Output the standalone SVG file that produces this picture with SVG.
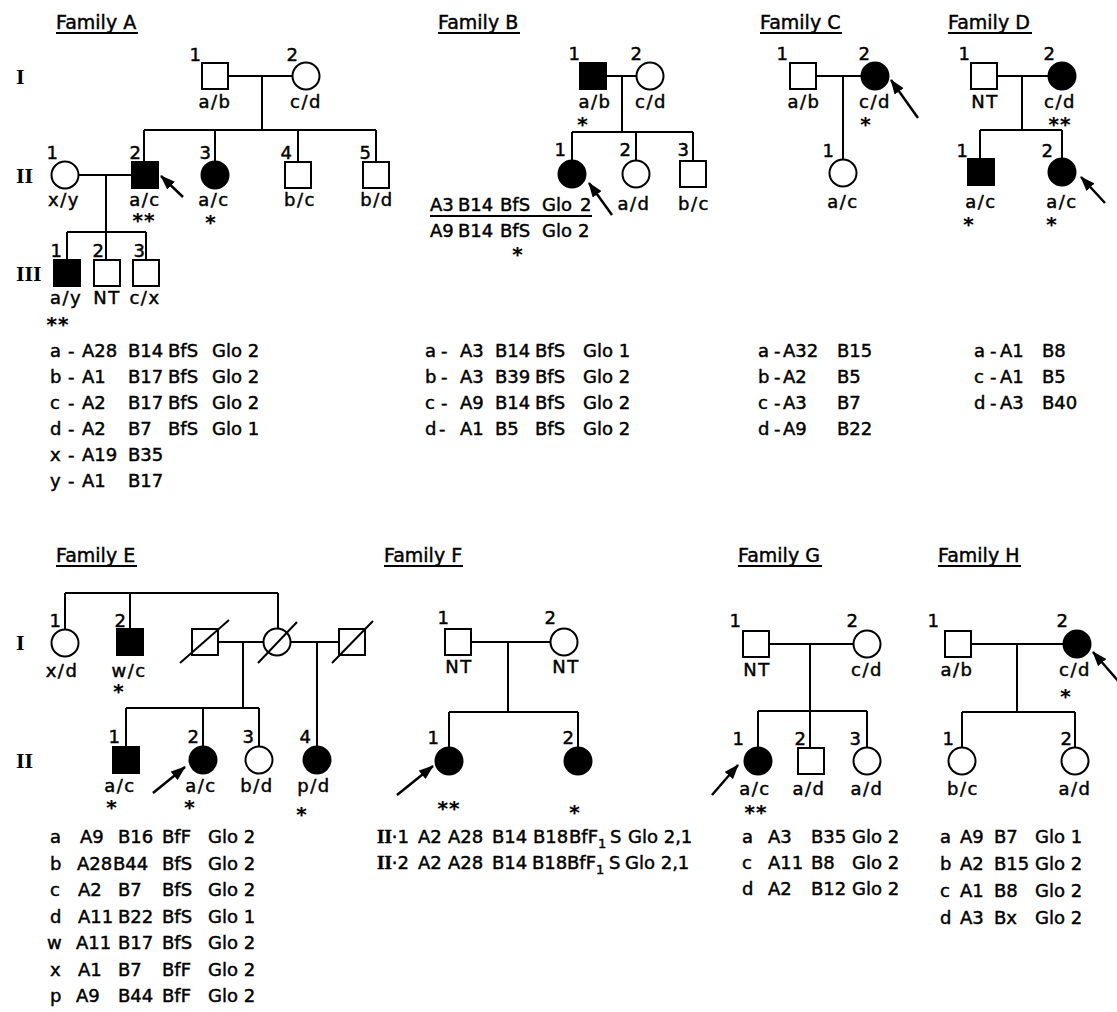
<svg xmlns="http://www.w3.org/2000/svg" width="1117" height="1012" viewBox="0 0 1117 1012">
<defs>
<marker id="ah" markerUnits="userSpaceOnUse" markerWidth="15" markerHeight="11" refX="14" refY="5.5" orient="auto"><path d="M0,0 L15,5.5 L0,11 Z" fill="#000"/></marker>
<style>
.s{fill:#fff;stroke:#000;stroke-width:2}
.f{fill:#000;stroke:#000;stroke-width:2}
.ln{stroke:#000;stroke-width:2;fill:none}
.ar{stroke:#000;stroke-width:2.5;fill:none;marker-end:url(#ah)}
.ul{stroke:#000;stroke-width:1.8}
text{font-family:"DejaVu Sans",sans-serif;font-size:18px;fill:#000;stroke:#000;stroke-width:0.45}
.t{font-size:19px}
.lb{text-anchor:middle;letter-spacing:1.5px}
.n{text-anchor:end}
.rn{font-family:"Liberation Serif",serif;font-size:22px;font-weight:bold;stroke-width:0}
.rs{font-family:"Liberation Serif",serif;font-size:19px;font-weight:bold}
.ast{font-family:"DejaVu Sans",sans-serif;font-weight:bold;font-size:20px;text-anchor:middle;letter-spacing:1px;stroke-width:0.2}
.sub{font-size:13px}
</style>
</defs>
<rect width="1117" height="1012" fill="#fff"/>

<g id="titles">
<text class="t" x="56" y="29">Family A</text><line class="ul" x1="56" y1="33" x2="138" y2="33"/>
<text class="t" x="438" y="29">Family B</text><line class="ul" x1="438" y1="33" x2="520" y2="33"/>
<text class="t" x="760" y="29">Family C</text><line class="ul" x1="760" y1="33" x2="842" y2="33"/>
<text class="t" x="948" y="29">Family D</text><line class="ul" x1="948" y1="33" x2="1032" y2="33"/>
<text class="t" x="56" y="562">Family E</text><line class="ul" x1="56" y1="566" x2="137" y2="566"/>
<text class="t" x="384" y="562">Family F</text><line class="ul" x1="384" y1="566" x2="463" y2="566"/>
<text class="t" x="738" y="562">Family G</text><line class="ul" x1="738" y1="566" x2="822" y2="566"/>
<text class="t" x="938" y="562">Family H</text><line class="ul" x1="938" y1="566" x2="1021" y2="566"/>
</g>

<g id="generations">
<text class="rn" x="16" y="84">I</text>
<text class="rn" x="16" y="183">II</text>
<text class="rn" x="16" y="281">III</text>
<text class="rn" x="16" y="650">I</text>
<text class="rn" x="16" y="768">II</text>
</g>

<g id="connectors">
<path class="ln" d="M228 76H292.5M262 76V130M144 130H376M144 130V162M215 130V161.5M298 130V162M376 130V162M78.5 175H132M106 175V260M67 232H146M67 232V260M146 232V260"/>
<path class="ln" d="M606 76H636.5M622 76V132M572 132H693M572 132V160.5M636 132V160.5M693 132V161"/>
<path class="ln" d="M816 76H861.5M843 76V159.5"/>
<path class="ln" d="M997 76H1048.5M1022 76V130M980 130H1062M980 130V159M1062 130V158.5"/>
<path class="ln" d="M65 593H278M65 593V629.5M130 593V629M278 593V628.5M218 642H263.5M243 642V708M290.5 642H339M317 642V746.5M126 708H259M126 708V747M203 708V746.5M259 708V746.5"/>
<path class="ln" d="M471 642H550.5M508 642V712M449 712H578M449 712V747.5M578 712V747.5"/>
<path class="ln" d="M769 644H853.5M810 644V748M758 711H867M758 711V747.5M867 711V747.5"/>
<path class="ln" d="M971 644H1063.5M1017 644V712M962 712H1075M962 712V747.5M1075 712V747.5"/>
<line class="ar" x1="183" y1="197" x2="161" y2="176"/>
<line class="ar" x1="612" y1="215" x2="589" y2="183"/>
<line class="ar" x1="918" y1="118" x2="891" y2="80"/>
<line class="ar" x1="1105" y1="203" x2="1081" y2="177"/>
<line class="ar" x1="153" y1="793" x2="185" y2="767"/>
<line class="ar" x1="397" y1="795" x2="433" y2="766"/>
<line class="ar" x1="712" y1="795" x2="738" y2="765"/>
<line class="ar" x1="1120" y1="683" x2="1093" y2="652"/>
</g>

<!-- Family A -->
<g id="A-I-1"><rect class="s" x="202" y="63" width="26" height="26"/><text class="n" x="201" y="61">1</text><text class="lb" x="215" y="108">a/b</text></g>
<g id="A-I-2"><circle class="s" cx="306" cy="76" r="13.5"/><text class="n" x="298" y="61">2</text><text class="lb" x="306" y="108">c/d</text></g>
<g id="A-II-1"><circle class="s" cx="65" cy="175" r="13.5"/><text class="n" x="58" y="159">1</text><text class="lb" x="64" y="206">x/y</text></g>
<g id="A-II-2"><rect class="f" x="132" y="162" width="26" height="26"/><text class="n" x="141" y="159">2</text><text class="lb" x="145" y="206">a/c</text><text class="ast" x="144" y="227">**</text></g>
<g id="A-II-3"><circle class="f" cx="215" cy="175" r="13.5"/><text class="n" x="211" y="159">3</text><text class="lb" x="214" y="206">a/c</text><text class="ast" x="211" y="229">*</text></g>
<g id="A-II-4"><rect class="s" x="285" y="162" width="26" height="26"/><text class="n" x="292" y="159">4</text><text class="lb" x="300" y="206">b/c</text></g>
<g id="A-II-5"><rect class="s" x="363" y="162" width="26" height="26"/><text class="n" x="371" y="159">5</text><text class="lb" x="377" y="206">b/d</text></g>
<g id="A-III-1"><rect class="f" x="54" y="260" width="26" height="26"/><text class="n" x="62" y="257">1</text><text class="lb" x="66" y="304">a/y</text><text class="ast" x="58" y="331">**</text></g>
<g id="A-III-2"><rect class="s" x="94" y="260" width="26" height="26"/><text class="n" x="104" y="257">2</text><text class="lb" x="107" y="304">NT</text></g>
<g id="A-III-3"><rect class="s" x="133" y="260" width="26" height="26"/><text class="n" x="145" y="257">3</text><text class="lb" x="145" y="304">c/x</text></g>
<g id="A-legend">
<text y="357"><tspan x="50">a</tspan><tspan x="68">-</tspan><tspan x="82">A28</tspan><tspan x="128">B14</tspan><tspan x="168">BfS</tspan><tspan x="212">Glo 2</tspan></text>
<text y="383"><tspan x="50">b</tspan><tspan x="68">-</tspan><tspan x="82">A1</tspan><tspan x="128">B17</tspan><tspan x="168">BfS</tspan><tspan x="212">Glo 2</tspan></text>
<text y="409"><tspan x="50">c</tspan><tspan x="68">-</tspan><tspan x="82">A2</tspan><tspan x="128">B17</tspan><tspan x="168">BfS</tspan><tspan x="212">Glo 2</tspan></text>
<text y="435"><tspan x="50">d</tspan><tspan x="68">-</tspan><tspan x="82">A2</tspan><tspan x="128">B7</tspan><tspan x="168">BfS</tspan><tspan x="212">Glo 1</tspan></text>
<text y="461"><tspan x="50">x</tspan><tspan x="68">-</tspan><tspan x="82">A19</tspan><tspan x="128">B35</tspan></text>
<text y="487"><tspan x="50">y</tspan><tspan x="68">-</tspan><tspan x="82">A1</tspan><tspan x="128">B17</tspan></text>
</g>

<!-- Family B -->
<g id="B-I-1"><rect class="f" x="580" y="63" width="26" height="26"/><text class="n" x="580" y="60">1</text><text class="lb" x="595" y="108">a/b</text><text class="ast" x="583" y="131">*</text></g>
<g id="B-I-2"><circle class="s" cx="650" cy="76" r="13.5"/><text class="n" x="642" y="60">2</text><text class="lb" x="651" y="108">c/d</text></g>
<g id="B-II-1"><circle class="f" cx="572" cy="174" r="13.5"/><text class="n" x="566" y="156">1</text>
<text x="430" y="211"><tspan x="430">A3</tspan><tspan x="458">B14</tspan><tspan x="500">BfS</tspan><tspan x="542">Glo</tspan><tspan x="580">2</tspan></text>
<line class="ln" x1="430" y1="216" x2="592" y2="216"/>
<text x="430" y="237"><tspan x="430">A9</tspan><tspan x="458">B14</tspan><tspan x="500">BfS</tspan><tspan x="542">Glo</tspan><tspan x="578">2</tspan></text>
<text class="ast" x="518" y="261">*</text></g>
<g id="B-II-2"><circle class="s" cx="636" cy="174" r="13.5"/><text class="n" x="631" y="156">2</text><text class="lb" x="634" y="210">a/d</text></g>
<g id="B-II-3"><rect class="s" x="680" y="161" width="26" height="26"/><text class="n" x="689" y="156">3</text><text class="lb" x="694" y="210">b/c</text></g>
<g id="B-legend">
<text y="357"><tspan x="425">a</tspan><tspan x="441">-</tspan><tspan x="460">A3</tspan><tspan x="495">B14</tspan><tspan x="535">BfS</tspan><tspan x="583">Glo 1</tspan></text>
<text y="383"><tspan x="425">b</tspan><tspan x="441">-</tspan><tspan x="460">A3</tspan><tspan x="495">B39</tspan><tspan x="535">BfS</tspan><tspan x="583">Glo 2</tspan></text>
<text y="409"><tspan x="425">c</tspan><tspan x="441">-</tspan><tspan x="460">A9</tspan><tspan x="495">B14</tspan><tspan x="535">BfS</tspan><tspan x="583">Glo 2</tspan></text>
<text y="435"><tspan x="425">d</tspan><tspan x="439">-</tspan><tspan x="460">A1</tspan><tspan x="495">B5</tspan><tspan x="535">BfS</tspan><tspan x="583">Glo 2</tspan></text>
</g>

<!-- Family C -->
<g id="C-I-1"><rect class="s" x="790" y="63" width="26" height="26"/><text class="n" x="788" y="60">1</text><text class="lb" x="804" y="108">a/b</text></g>
<g id="C-I-2"><circle class="f" cx="875" cy="76" r="13.5"/><text class="n" x="870" y="60">2</text><text class="lb" x="875" y="108">c/d</text><text class="ast" x="866" y="131">*</text></g>
<g id="C-II-1"><circle class="s" cx="843" cy="173" r="13.5"/><text class="n" x="834" y="157">1</text><text class="lb" x="843" y="208">a/c</text></g>
<g id="C-legend">
<text y="357"><tspan x="758">a</tspan><tspan x="774">-</tspan><tspan x="783">A32</tspan><tspan x="837">B15</tspan></text>
<text y="383"><tspan x="758">b</tspan><tspan x="774">-</tspan><tspan x="783">A2</tspan><tspan x="837">B5</tspan></text>
<text y="409"><tspan x="758">c</tspan><tspan x="774">-</tspan><tspan x="783">A3</tspan><tspan x="837">B7</tspan></text>
<text y="435"><tspan x="758">d</tspan><tspan x="774">-</tspan><tspan x="783">A9</tspan><tspan x="837">B22</tspan></text>
</g>

<!-- Family D -->
<g id="D-I-1"><rect class="s" x="971" y="63" width="26" height="26"/><text class="n" x="970" y="60">1</text><text class="lb" x="985" y="108">NT</text></g>
<g id="D-I-2"><circle class="f" cx="1062" cy="76" r="13.5"/><text class="n" x="1055" y="60">2</text><text class="lb" x="1060" y="108">c/d</text><text class="ast" x="1060" y="131">**</text></g>
<g id="D-II-1"><rect class="f" x="968" y="159" width="26" height="26"/><text class="n" x="968" y="157">1</text><text class="lb" x="981" y="208">a/c</text><text class="ast" x="969" y="231">*</text></g>
<g id="D-II-2"><circle class="f" cx="1062" cy="172" r="13.5"/><text class="n" x="1053" y="157">2</text><text class="lb" x="1062" y="208">a/c</text><text class="ast" x="1052" y="231">*</text></g>
<g id="D-legend">
<text y="357"><tspan x="974">a</tspan><tspan x="990">-</tspan><tspan x="1000">A1</tspan><tspan x="1042">B8</tspan></text>
<text y="383"><tspan x="974">c</tspan><tspan x="990">-</tspan><tspan x="1000">A1</tspan><tspan x="1042">B5</tspan></text>
<text y="409"><tspan x="974">d</tspan><tspan x="990">-</tspan><tspan x="1000">A3</tspan><tspan x="1042">B40</tspan></text>
</g>

<!-- Family E -->
<g id="E-I-1"><circle class="s" cx="65" cy="643" r="13.5"/><text class="n" x="61" y="627">1</text><text class="lb" x="62" y="677">x/d</text></g>
<g id="E-I-2"><rect class="f" x="117" y="629" width="26" height="26"/><text class="n" x="126" y="627">2</text><text class="lb" x="129" y="677">w/c</text><text class="ast" x="119" y="698">*</text></g>
<g id="E-I-3"><rect class="s" x="192" y="629" width="26" height="26"/><line class="ln" x1="180" y1="663" x2="229" y2="620"/></g>
<g id="E-I-4"><circle class="s" cx="277" cy="642" r="13.5"/><line class="ln" x1="258" y1="663" x2="297" y2="622"/></g>
<g id="E-I-5"><rect class="s" x="339" y="629" width="26" height="26"/><line class="ln" x1="332" y1="663" x2="373" y2="621"/></g>
<g id="E-II-1"><rect class="f" x="113" y="747" width="26" height="26"/><text class="n" x="120" y="743">1</text><text class="lb" x="120" y="792">a/c</text><text class="ast" x="112" y="814">*</text></g>
<g id="E-II-2"><circle class="f" cx="203" cy="760" r="13.5"/><text class="n" x="199" y="743">2</text><text class="lb" x="201" y="792">a/c</text><text class="ast" x="190" y="814">*</text></g>
<g id="E-II-3"><circle class="s" cx="259" cy="760" r="13.5"/><text class="n" x="254" y="743">3</text><text class="lb" x="257" y="792">b/d</text></g>
<g id="E-II-4"><circle class="f" cx="317" cy="760" r="13.5"/><text class="n" x="311" y="743">4</text><text class="lb" x="314" y="792">p/d</text><text class="ast" x="302" y="821">*</text></g>
<g id="E-legend">
<text y="843"><tspan x="50">a</tspan><tspan x="80">A9</tspan><tspan x="118">B16</tspan><tspan x="162">BfF</tspan><tspan x="208">Glo 2</tspan></text>
<text y="869.5"><tspan x="50">b</tspan><tspan x="77">A28</tspan><tspan x="113">B44</tspan><tspan x="162">BfS</tspan><tspan x="208">Glo 2</tspan></text>
<text y="896"><tspan x="50">c</tspan><tspan x="78">A2</tspan><tspan x="118">B7</tspan><tspan x="162">BfS</tspan><tspan x="208">Glo 2</tspan></text>
<text y="922.5"><tspan x="50">d</tspan><tspan x="78">A11</tspan><tspan x="118">B22</tspan><tspan x="162">BfS</tspan><tspan x="208">Glo 1</tspan></text>
<text y="949"><tspan x="47">w</tspan><tspan x="76">A11</tspan><tspan x="118">B17</tspan><tspan x="162">BfS</tspan><tspan x="208">Glo 2</tspan></text>
<text y="975.5"><tspan x="50">x</tspan><tspan x="78">A1</tspan><tspan x="118">B7</tspan><tspan x="162">BfF</tspan><tspan x="208">Glo 2</tspan></text>
<text y="1002"><tspan x="50">p</tspan><tspan x="76">A9</tspan><tspan x="118">B44</tspan><tspan x="162">BfF</tspan><tspan x="208">Glo 2</tspan></text>
</g>

<!-- Family F -->
<g id="F-I-1"><rect class="s" x="445" y="629" width="26" height="26"/><text class="n" x="449" y="624">1</text><text class="lb" x="459" y="673">NT</text></g>
<g id="F-I-2"><circle class="s" cx="564" cy="642" r="13.5"/><text class="n" x="556" y="624">2</text><text class="lb" x="566" y="673">NT</text></g>
<g id="F-II-1"><circle class="f" cx="449" cy="761" r="13.5"/><text class="n" x="439" y="744">1</text><text class="ast" x="449" y="815">**</text></g>
<g id="F-II-2"><circle class="f" cx="578" cy="761" r="13.5"/><text class="n" x="574" y="744">2</text><text class="ast" x="575" y="819">*</text></g>
<g id="F-genotypes">
<text y="843"><tspan x="377" class="rs">II</tspan><tspan>·1</tspan><tspan x="418">A2</tspan><tspan x="448">A28</tspan><tspan x="492">B14</tspan><tspan x="533">B18</tspan><tspan x="569">BfF</tspan><tspan class="sub" dy="5">1</tspan><tspan x="610" dy="-5">S</tspan><tspan x="628">Glo 2,1</tspan></text>
<text y="869"><tspan x="377" class="rs">II</tspan><tspan>·2</tspan><tspan x="418">A2</tspan><tspan x="448">A28</tspan><tspan x="492">B14</tspan><tspan x="532">B18</tspan><tspan x="567">BfF</tspan><tspan class="sub" dy="5">1</tspan><tspan x="609" dy="-5">S</tspan><tspan x="625">Glo 2,1</tspan></text>
</g>

<!-- Family G -->
<g id="G-I-1"><rect class="s" x="743" y="631" width="26" height="26"/><text class="n" x="741" y="627">1</text><text class="lb" x="757" y="676">NT</text></g>
<g id="G-I-2"><circle class="s" cx="867" cy="644" r="13.5"/><text class="n" x="858" y="627">2</text><text class="lb" x="867" y="676">c/d</text></g>
<g id="G-II-1"><circle class="f" cx="758" cy="761" r="13.5"/><text class="n" x="744" y="745">1</text><text class="lb" x="755" y="795">a/c</text><text class="ast" x="756" y="819">**</text></g>
<g id="G-II-2"><rect class="s" x="798" y="748" width="26" height="26"/><text class="n" x="806" y="745">2</text><text class="lb" x="809" y="795">a/d</text></g>
<g id="G-II-3"><circle class="s" cx="867" cy="761" r="13.5"/><text class="n" x="861" y="745">3</text><text class="lb" x="867" y="795">a/d</text></g>
<g id="G-legend">
<text y="843"><tspan x="742">a</tspan><tspan x="768">A3</tspan><tspan x="811">B35</tspan><tspan x="852">Glo 2</tspan></text>
<text y="869"><tspan x="742">c</tspan><tspan x="768">A11</tspan><tspan x="811">B8</tspan><tspan x="852">Glo 2</tspan></text>
<text y="895"><tspan x="742">d</tspan><tspan x="768">A2</tspan><tspan x="811">B12</tspan><tspan x="852">Glo 2</tspan></text>
</g>

<!-- Family H -->
<g id="H-I-1"><rect class="s" x="945" y="631" width="26" height="26"/><text class="n" x="939" y="627">1</text><text class="lb" x="957" y="676">a/b</text></g>
<g id="H-I-2"><circle class="f" cx="1077" cy="644" r="13.5"/><text class="n" x="1068" y="627">2</text><text class="lb" x="1075" y="676">c/d</text><text class="ast" x="1066" y="703">*</text></g>
<g id="H-II-1"><circle class="s" cx="962" cy="761" r="13.5"/><text class="n" x="954" y="745">1</text><text class="lb" x="963" y="795">b/c</text></g>
<g id="H-II-2"><circle class="s" cx="1075" cy="761" r="13.5"/><text class="n" x="1072" y="745">2</text><text class="lb" x="1075" y="795">a/d</text></g>
<g id="H-legend">
<text y="843"><tspan x="940">a</tspan><tspan x="960">A9</tspan><tspan x="994">B7</tspan><tspan x="1035">Glo 1</tspan></text>
<text y="870"><tspan x="940">b</tspan><tspan x="960">A2</tspan><tspan x="994">B15</tspan><tspan x="1035">Glo 2</tspan></text>
<text y="897"><tspan x="940">c</tspan><tspan x="960">A1</tspan><tspan x="994">B8</tspan><tspan x="1035">Glo 2</tspan></text>
<text y="924"><tspan x="940">d</tspan><tspan x="960">A3</tspan><tspan x="994">Bx</tspan><tspan x="1035">Glo 2</tspan></text>
</g>
</svg>
